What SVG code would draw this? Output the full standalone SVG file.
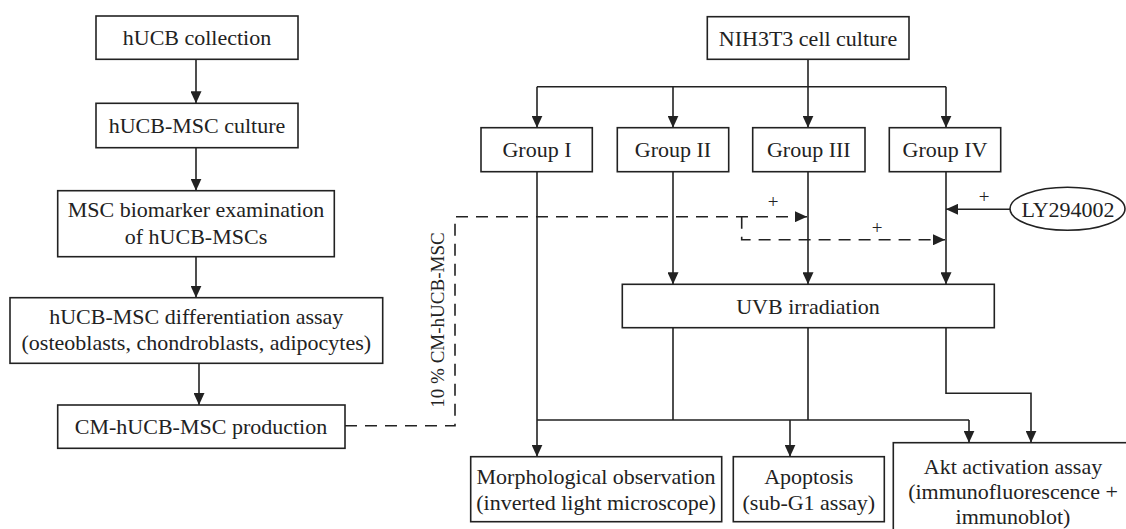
<svg xmlns="http://www.w3.org/2000/svg" width="1126" height="529" viewBox="0 0 1126 529">
<style>
.box{fill:#fff;stroke:#222;stroke-width:1.6}
.t{font-family:"Liberation Serif","Times New Roman",serif;font-size:22px;fill:#222;text-anchor:middle}
.s{font-size:19px}
.c{fill:none;stroke:#222;stroke-width:1.6}
.d{fill:none;stroke:#222;stroke-width:1.6;stroke-dasharray:12 8}
</style>
<defs>
<marker id="ah" markerWidth="12" markerHeight="11" refX="12" refY="5.5" orient="auto" markerUnits="userSpaceOnUse">
<path d="M0,0 L12,5.5 L0,11 Z" fill="#222"/>
</marker>
</defs>
<rect width="1126" height="529" fill="#fff"/>
<g id="connectors">
<path class="c" d="M196,59.3 V103.3" marker-end="url(#ah)"/>
<path class="c" d="M196,147.7 V190.7" marker-end="url(#ah)"/>
<path class="c" d="M196,256.7 V297.7" marker-end="url(#ah)"/>
<path class="c" d="M199,363.3 V405" marker-end="url(#ah)"/>
<path class="d" d="M345,425.7 H455 V216.7 H807" marker-end="url(#ah)"/>
<path class="d" d="M741.7,216.7 V239.8 H945" marker-end="url(#ah)"/>
<path class="c" d="M808,59.3 V127.7" marker-end="url(#ah)"/>
<path class="c" d="M537,86.7 H946"/>
<path class="c" d="M537,86.7 V127.7" marker-end="url(#ah)"/>
<path class="c" d="M673,86.7 V127.7" marker-end="url(#ah)"/>
<path class="c" d="M946,86.7 V127.7" marker-end="url(#ah)"/>
<path class="c" d="M537,171.7 V456.7" marker-end="url(#ah)"/>
<path class="c" d="M673,171.7 V284.3" marker-end="url(#ah)"/>
<path class="c" d="M808,171.7 V284.3" marker-end="url(#ah)"/>
<path class="c" d="M946,171.7 V284.3" marker-end="url(#ah)"/>
<path class="c" d="M1010,209.3 H946" marker-end="url(#ah)"/>
<path class="c" d="M673,327.7 V420 M808,327.7 V420 M537,420 H969"/>
<path class="c" d="M790,420 V456.7" marker-end="url(#ah)"/>
<path class="c" d="M969,420 V442.7" marker-end="url(#ah)"/>
<path class="c" d="M946,327.7 V393.3 H1031 V442.7" marker-end="url(#ah)"/>
<text class="t s" x="0" y="0" transform="translate(444,320) rotate(-90)">10 % CM-hUCB-MSC</text>
<text class="t s" x="773" y="208">+</text>
<text class="t s" x="877" y="234">+</text>
<text class="t s" x="984" y="203">+</text>
</g>
<g id="n-hucb-collection">
<rect class="box" x="96" y="16" width="202" height="43.3"/>
<text class="t" x="197" y="45">hUCB collection</text>
</g>
<g id="n-hucb-msc-culture">
<rect class="box" x="96" y="103.3" width="202" height="44.4"/>
<text class="t" x="197" y="133">hUCB-MSC culture</text>
</g>
<g id="n-biomarker">
<rect class="box" x="57.7" y="190.7" width="276.6" height="66"/>
<text class="t" x="196" y="217">MSC biomarker examination</text>
<text class="t" x="196" y="243.5">of hUCB-MSCs</text>
</g>
<g id="n-differentiation">
<rect class="box" x="10" y="297.7" width="372.7" height="65.6"/>
<text class="t" x="196.3" y="323.5">hUCB-MSC differentiation assay</text>
<text class="t" x="196.3" y="350">(osteoblasts, chondroblasts, adipocytes)</text>
</g>
<g id="n-cm-production">
<rect class="box" x="57.7" y="405" width="287.3" height="43.3"/>
<text class="t" x="201" y="433.5">CM-hUCB-MSC production</text>
</g>
<g id="n-nih3t3">
<rect class="box" x="707.3" y="16.7" width="201.7" height="42.6"/>
<text class="t" x="808" y="45.5">NIH3T3 cell culture</text>
</g>
<g id="n-group1">
<rect class="box" x="481" y="127.7" width="111.3" height="44"/>
<text class="t" x="537" y="157">Group I</text>
</g>
<g id="n-group2">
<rect class="box" x="617.3" y="127.7" width="111.4" height="44"/>
<text class="t" x="673" y="157">Group II</text>
</g>
<g id="n-group3">
<rect class="box" x="752.7" y="127.7" width="112.3" height="44"/>
<text class="t" x="808.8" y="157">Group III</text>
</g>
<g id="n-group4">
<rect class="box" x="889.3" y="127.7" width="111.4" height="44"/>
<text class="t" x="945" y="157">Group IV</text>
</g>
<g id="n-ly294002">
<ellipse class="box" cx="1067.5" cy="208.7" rx="57.5" ry="21.5"/>
<text class="t" x="1068" y="216.5">LY294002</text>
</g>
<g id="n-uvb">
<rect class="box" x="622.3" y="284.3" width="372" height="43.4"/>
<text class="t" x="808" y="313.5">UVB irradiation</text>
</g>
<g id="n-morph">
<rect class="box" x="470.7" y="456.7" width="251" height="65"/>
<text class="t" x="596" y="483.5">Morphological observation</text>
<text class="t" x="596" y="510">(inverted light microscope)</text>
</g>
<g id="n-apoptosis">
<rect class="box" x="733.3" y="456.7" width="151" height="65"/>
<text class="t" x="808.8" y="483.5">Apoptosis</text>
<text class="t" x="808.8" y="510">(sub-G1 assay)</text>
</g>
<g id="n-akt">
<rect class="box" x="893.3" y="442.7" width="240" height="100"/>
<text class="t" x="1013" y="474">Akt activation assay</text>
<text class="t" x="1013" y="499">(immunofluorescence +</text>
<text class="t" x="1013" y="524">immunoblot)</text>
</g>
</svg>
